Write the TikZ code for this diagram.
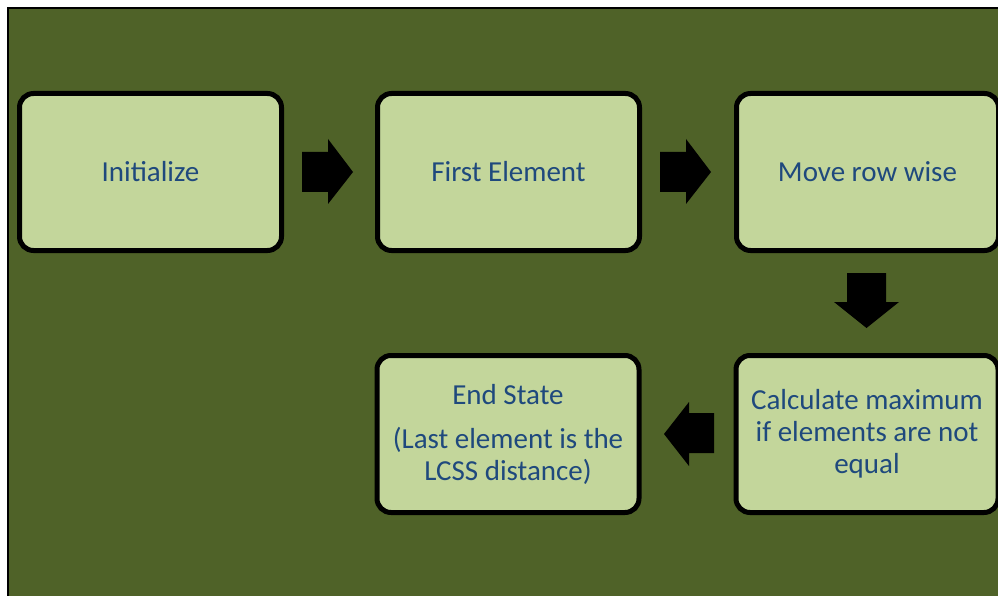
\documentclass[tikz,border=0pt]{standalone}
\usepackage{fontspec}
\setmainfont{Carlito}
\definecolor{bg}{HTML}{4F6228}
\definecolor{boxfill}{HTML}{C3D69B}
\definecolor{txt}{HTML}{1F497D}
\begin{document}
\begin{tikzpicture}[x=1pt,y=-1pt,
  stepbox/.style={draw=black, line width=5pt, fill=boxfill, rounded corners=14pt,
    minimum width=262pt, minimum height=157pt, inner sep=0pt, text=txt,
    font=\fontsize{29}{32}\selectfont, align=center},
  blockarrow/.style={fill=black, draw=none}]
\useasboundingbox (0,0) rectangle (998,596);
\clip (0,0) rectangle (998,596);
\fill[white] (0,0) rectangle (998,596);
\draw[fill=bg, line width=2pt] (8,8) rectangle (1010,610);

\node[stepbox] (init) at (150.5,172) {Initialize};
\node[stepbox] (first) at (508.5,172) {First Element};
\node[stepbox] (move) at (867.5,172) {Move row wise};
\node[stepbox] (calc) at (867,434) {Calculate maximum\\if elements are not\\equal};
\node[stepbox] (endst) at (508,434) {End State\\[12pt](Last element is the\\LCSS distance)};

\fill[blockarrow] (302,152) -- (328,152) -- (328,139) -- (353,172) -- (328,204) -- (328,192) -- (302,192) -- cycle;
\fill[blockarrow] (660,152) -- (686,152) -- (686,139) -- (711,172) -- (686,204) -- (686,192) -- (660,192) -- cycle;
\fill[blockarrow] (847,273) -- (886,273) -- (886,302) -- (899,302) -- (866.5,328) -- (834,302) -- (847,302) -- cycle;
\fill[blockarrow] (714,413) -- (689,413) -- (689,402) -- (664,434) -- (689,466) -- (689,453) -- (714,453) -- cycle;
\end{tikzpicture}
\end{document}
